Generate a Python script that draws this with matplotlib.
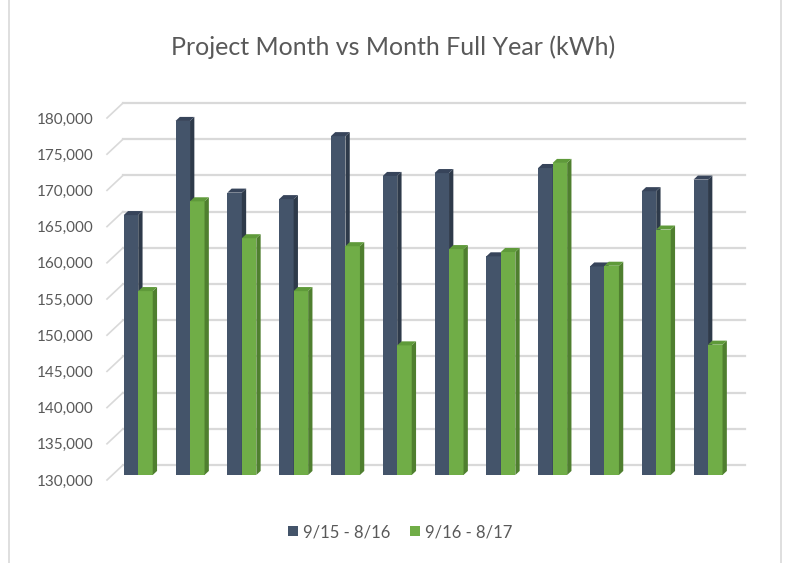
import matplotlib
import matplotlib.pyplot as plt
import numpy as np
from matplotlib.lines import Line2D
from matplotlib.patches import Polygon

matplotlib.use("Agg")

months = ["Sep", "Oct", "Nov", "Dec", "Jan", "Feb", "Mar", "Apr", "May", "Jun", "Jul", "Aug"]
series_names = ["9/15 - 8/16", "9/16 - 8/17"]
kwh_prev = [165900, 178900, 169000, 168100, 176800, 171300, 171700, 160200, 172400, 158800, 169200, 170800]
kwh_curr = [155400, 167800, 162700, 155400, 161600, 147900, 161200, 160800, 173100, 158900, 163900, 148000]
y_ticks = list(range(130000, 180001, 5000))

# face colours: front, side, top
NAVY = ("#44546a", "#2e3a4a", "#37445a")
GREEN = ("#70ad47", "#4f7f2f", "#5f9a3a")
GRID = "#d9d9d9"
TEXT = "#595959"
FONT = "Lato"

W, H = 786, 563
fig = plt.figure(figsize=(W / 100, H / 100), dpi=100)

# axes placed in pixels so the fake 3d depth can be given in pixels too
px_per_unit_x = 51.8
px_per_5000 = 36.2
ymin, ymax = 130000, 182500
depth_px = (16, 15)  # full floor depth, right and up
dx_full = depth_px[0] / px_per_unit_x
dy_full = depth_px[1] * 5000 / px_per_5000
xmin, xmax = -0.5, len(months) - 0.5 + dx_full

left_px, bottom_px = 107, H - 480
ax_w = (xmax - xmin) * px_per_unit_x
ax_h = (ymax - ymin) * px_per_5000 / 5000
ax = fig.add_axes([left_px / W, bottom_px / H, ax_w / W, ax_h / H])
ax.set_xlim(xmin, xmax)
ax.set_ylim(ymin, ymax)

# back wall gridlines plus the diagonals on the left side wall
for v in y_ticks:
    ax.plot([xmin + dx_full, xmax], [v + dy_full, v + dy_full], color=GRID, lw=1.6, zorder=1, clip_on=False)
    ax.plot([xmin, xmin + dx_full], [v, v + dy_full], color=GRID, lw=1.2, zorder=1, clip_on=False)

bar_w = 0.28
front_f = 1 / 3  # depth of the bar front face
depth_f = 0.27   # bar depth as part of floor depth
ox, oy = front_f * dx_full, front_f * dy_full
sx, sy = depth_f * dx_full, depth_f * dy_full

handles = []
x = np.arange(len(months))
for k, (vals, cols) in enumerate([(kwh_prev, NAVY), (kwh_curr, GREEN)]):
    x0 = x - bar_w + k * bar_w + ox
    bars = ax.bar(x0, np.array(vals) - ymin, width=bar_w, bottom=ymin + oy, align="edge",
                  color=cols[0], zorder=3 + k, label=series_names[k], linewidth=0)
    handles.append(bars)
    for xl, v in zip(x0, vals):
        xr = xl + bar_w
        top = v + oy
        side = Polygon([(xr, ymin + oy), (xr, top), (xr + sx, top + sy), (xr + sx, ymin + oy + sy)],
                       closed=True, facecolor=cols[1], edgecolor="none", zorder=3 + k)
        cap = Polygon([(xl, top), (xr, top), (xr + sx, top + sy), (xl + sx, top + sy)],
                      closed=True, facecolor=cols[2], edgecolor="none", zorder=3 + k)
        ax.add_patch(side)
        ax.add_patch(cap)

ax.set_yticks(y_ticks)
ax.set_yticklabels([f"{v:,}" for v in y_ticks], fontsize=11, color=TEXT, fontfamily=FONT)
ax.set_xticks([])
ax.tick_params(axis="y", length=0, pad=10)
for sp in ax.spines.values():
    sp.set_visible(False)
ax.patch.set_visible(False)

fig.text(0.5, 1 - 47 / H, "Project Month vs Month Full Year (kWh)", ha="center", va="center",
         fontsize=18, color=TEXT, fontfamily=FONT)

leg = fig.legend(handles=handles, labels=series_names, loc="center", bbox_to_anchor=(400 / W, 1 - 532 / H),
                 ncol=2, frameon=False, handlelength=0.6, handleheight=0.6, handletextpad=0.3,
                 columnspacing=1.2, prop={"family": FONT, "size": 12})
for t in leg.get_texts():
    t.set_color(TEXT)

# chart area border on the left and right
for xb in (9, 781):
    fig.add_artist(Line2D([xb / W, xb / W], [0, 1], color=GRID, lw=1.2))

fig.savefig("out.png", dpi=100)
